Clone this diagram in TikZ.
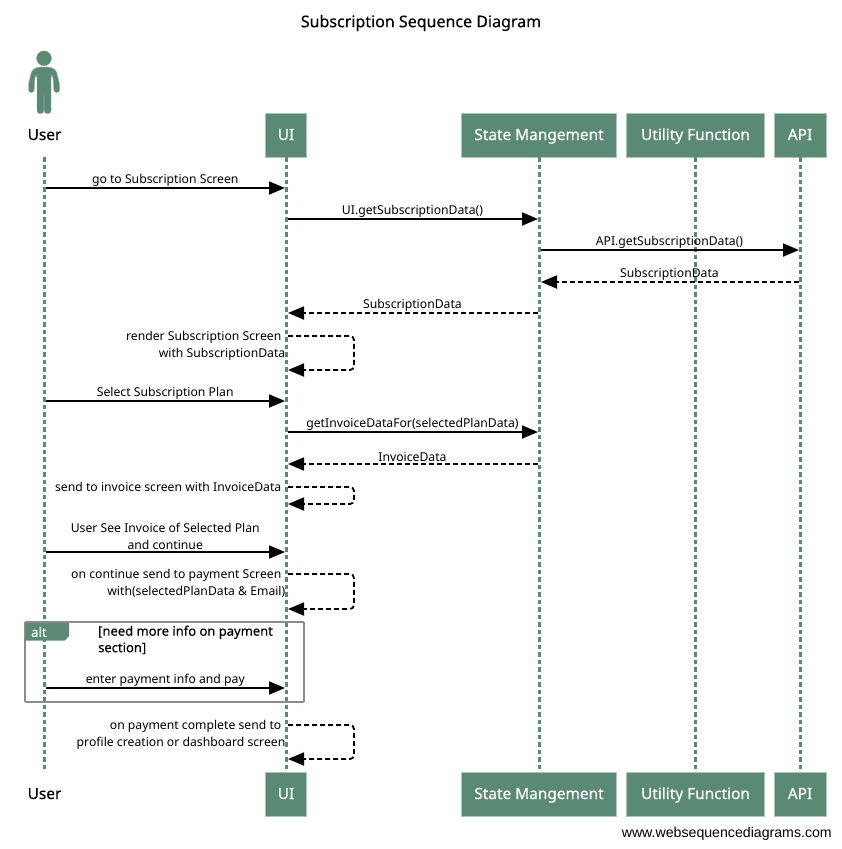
\documentclass[tikz,border=0pt]{standalone}
\usepackage{fontspec}
\setmainfont{Noto Sans}
\newfontfamily\footfont{Liberation Sans}
\newfontfamily\heavyfont[FakeBold=0.35]{Noto Sans}
\usetikzlibrary{arrows.meta,positioning}
\definecolor{wsdgreen}{HTML}{5A8A75}
\definecolor{wsdedge}{HTML}{A9C6B9}
\tikzset{
    actorbox/.style={fill=wsdgreen, draw=wsdedge, line width=0.8pt, text=white, font=\heavyfont\fontsize{15.4}{17}\selectfont, minimum height=44pt, inner sep=0pt, text height=12.5pt, text depth=2.5pt},
    actorplain/.style={font=\heavyfont\fontsize{15.4}{17}\selectfont, minimum height=44pt, inner sep=0pt, text height=12.5pt, text depth=2.5pt},
    lifeline/.style={wsdgreen, line width=3pt, dash pattern=on 4.5pt off 3pt},
    msgsolid/.style={line width=1.8pt, -{Triangle[length=16pt,width=13pt]}, shorten >=1pt, shorten <=1.5pt},
    msgdash/.style={line width=1.8pt, dash pattern=on 5pt off 3pt, -{Triangle[length=16pt,width=13pt]}, shorten >=2pt, shorten <=1.5pt},
    msgtext/.style={font=\fontsize{12.2}{17}\selectfont, inner sep=0pt, align=center},
    selftext/.style={font=\fontsize{12.2}{17}\selectfont, inner sep=0pt, align=right, anchor=north east}
}
\begin{document}
\begin{tikzpicture}[x=1pt, y=-1pt]
    \useasboundingbox (0,0) rectangle (841,849);

    % Title
    \node[font=\heavyfont\fontsize{16}{18}\selectfont] (title) at (421,23) {Subscription Sequence Diagram};

    % User heads and lifeline ends
    \node[actorplain] (userT) at (44.5,135) {User};
    \node[actorplain] (userB) at (44.5,794) {User};
    \foreach \n/\x/\w/\lab in {ui/286/41/UI, state/539/155/State Mangement, util/695.5/138/Utility Function, api/800/52/API} {
        \node[actorbox, minimum width=\w pt] (\n T) at (\x,135) {\lab};
        \node[actorbox, minimum width=\w pt] (\n B) at (\x,794) {\lab};
    }

    % Lifelines
    \foreach \n in {user,ui,state,util,api} {
        \draw[lifeline] (\n T) -- (\n B);
    }

    % User figure
    \fill[wsdgreen, draw=gray!70, thin] (44,58.3) circle (7.5);
    \draw[fill=wsdgreen, draw=gray!70, thin, rounded corners=2.5pt]
        (38,67) -- (50,67) -- (56,70) -- (59.5,84) -- (59.5,92.5) -- (54,92.5) -- (53,76) -- (51,75)
        -- (51,113.5) -- (44.3,113.5) -- (44,93) -- (43.7,113.5) -- (37,113.5) -- (37,75) -- (35,76)
        -- (34,92.5) -- (28.5,92.5) -- (28.5,84) -- (32,70) -- cycle;

    % Messages between lifelines
    \foreach \i/\from/\to/\y/\kind/\lab in {
        1/userT/uiT/188/msgsolid/go to Subscription Screen,
        2/uiT/stateT/219/msgsolid/UI.getSubscriptionData(),
        3/stateT/apiT/250/msgsolid/API.getSubscriptionData(),
        4/apiT/stateT/282/msgdash/SubscriptionData,
        5/stateT/uiT/313/msgdash/SubscriptionData,
        6/userT/uiT/401/msgsolid/Select Subscription Plan,
        7/uiT/stateT/432/msgsolid/getInvoiceDataFor(selectedPlanData),
        8/stateT/uiT/464/msgdash/InvoiceData,
        9/userT/uiT/552/msgsolid/{User See Invoice of Selected Plan\\and continue},
        10/userT/uiT/688/msgsolid/enter payment info and pay} {
        \coordinate (a\i) at (\from |- 0,\y);
        \coordinate (b\i) at (\to |- 0,\y);
        \draw[\kind] (a\i) -- (b\i) node[msgtext, midway, above=1pt] (m\i) {\lab};
    }

    % Self messages on the UI lifeline
    \foreach \i/\y/\h/\lab in {
        1/336/34/{render Subscription Screen\hspace*{4pt}\\with SubscriptionData},
        2/487/17/{send to invoice screen with InvoiceData\hspace*{4pt}},
        3/574/35/{on continue send to payment Screen\hspace*{4pt}\\with(selectedPlanData \& Email)},
        4/725/34/{on payment complete send to\hspace*{4pt}\\profile creation or dashboard screen}} {
        \coordinate (sa\i) at (uiT |- 0,\y);
        \coordinate (sb\i) at (uiT |- 0,\y+\h);
        \draw[msgdash, rounded corners=4pt, shorten <=2pt] (sa\i) -- ++(68,0) -- ++(0,\h) -- (sb\i);
        \node[selftext] (st\i) at (285.5,\y-5) {\lab};
    }

    % Alt frame
    \draw[gray!90, line width=1.8pt, rounded corners=1pt] (25,622) rectangle (304,702);
    \fill[wsdgreen, rounded corners=0.5pt] (25.5,623) -- (69,623) -- (69,636) -- (65,640.5) -- (25.5,640.5) -- cycle;
    \node[font=\heavyfont\fontsize{13}{15}\selectfont, text=white, inner sep=0pt, anchor=west] (altlab) at (31,632) {alt};
    \node[font=\heavyfont\fontsize{13}{16.5}\selectfont, inner sep=0pt, align=left, anchor=north west] (altcond) at (98,625.5) {[need more info on payment\\section]};

    % Footer
    \node[font=\footfont\fontsize{14.15}{16}\selectfont, inner sep=0pt, anchor=east] (foot) at (832,834) {www.websequencediagrams.com};
\end{tikzpicture}
\end{document}
